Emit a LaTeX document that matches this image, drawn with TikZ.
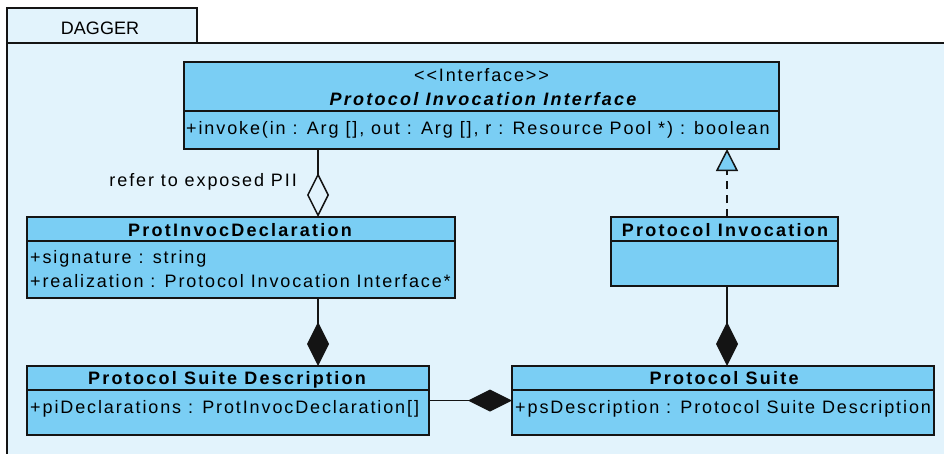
\documentclass[tikz,border=0pt]{standalone}
\usepackage{fontspec}
\setmainfont{Liberation Sans}
\newfontfamily\umlfont[LetterSpace=10.5]{Liberation Sans}
\newfontfamily\umlboldfont[LetterSpace=12.5]{Liberation Sans}
\usetikzlibrary{arrows.meta,calc}

\definecolor{umlblue}{RGB}{122,206,244}
\definecolor{pkgbg}{RGB}{226,243,252}
\definecolor{inkline}{RGB}{20,20,20}

\tikzset{
  classbox/.style={draw=inkline, fill=umlblue, rectangle, inner sep=0pt,
    outer sep=0pt, anchor=north west, line width=1.6pt},
  divider/.style={draw=inkline, line width=1.4pt},
  member/.style={anchor=base west, inner sep=0pt, font=\umlfont\fontsize{18}{20}\selectfont},
  ctitle/.style={anchor=base, inner sep=0pt, font=\umlboldfont\bfseries\fontsize{18}{20}\selectfont},
  stereo/.style={anchor=base, inner sep=0pt, font=\umlfont\fontsize{18}{20}\selectfont},
  assoc/.style={draw=inkline, line width=1.5pt},
  aggregation/.style={assoc, -{Diamond[open, length=44pt, width=22pt]}},
  composition/.style={assoc, -{Diamond[length=44pt, width=22pt]}},
  realization/.style={assoc, dash pattern=on 8pt off 6pt,
    -{Triangle[length=22pt, width=22pt, fill=umlblue]}},
}

\begin{document}
\begin{tikzpicture}[x=1pt, y=-1pt]
  \useasboundingbox (0,0) rectangle (944,453);
  \clip (0,0) rectangle (944,453);
  \fill[white] (0,0) rectangle (944,453);

  % package frame with its name tab
  \draw[fill=pkgbg, draw=inkline, line width=1.5pt] (7,43) rectangle (960,470);
  \draw[fill=pkgbg, draw=inkline, line width=1.5pt] (7,8) rectangle (197,43);
  \node[anchor=base, inner sep=0pt, font=\fontsize{18}{20}\selectfont] (pkgname) at (100,34.5) {DAGGER};

  % Protocol Invocation Interface
  \node[classbox, minimum width=595pt, minimum height=87pt] (PII) at (184,62) {};
  \draw[divider] ($(PII.north west)+(0,49)$) -- ($(PII.north east)+(0,49)$);
  \node[stereo] (PIIst) at (481.5,81.5) {<{}<Interface>{}>};
  \node[ctitle] (PIIname) at (483,105) {\itshape Protocol Invocation Interface};
  \node[member] (PIIop) at (186,134) {+invoke(in : Arg [], out : Arg [], r : Resource Pool *) : boolean};

  % ProtInvocDeclaration
  \node[classbox, minimum width=428pt, minimum height=81pt] (PID) at (27,217) {};
  \draw[divider] ($(PID.north west)+(0,24)$) -- ($(PID.north east)+(0,24)$);
  \node[ctitle] (PIDname) at (240,236) {ProtInvocDeclaration};
  \node[member] (PIDa1) at (30,263.5) {+signature : string};
  \node[member] (PIDa2) at (30,287) {+realization : Protocol Invocation Interface*};

  % Protocol Invocation
  \node[classbox, minimum width=227pt, minimum height=69pt] (PI) at (611,217) {};
  \draw[divider] ($(PI.north west)+(0,24)$) -- ($(PI.north east)+(0,24)$);
  \node[ctitle] (PIname) at (725,236) {Protocol Invocation};

  % Protocol Suite Description
  \node[classbox, minimum width=402pt, minimum height=69pt] (PSD) at (27,366) {};
  \draw[divider] ($(PSD.north west)+(0,24)$) -- ($(PSD.north east)+(0,24)$);
  \node[ctitle] (PSDname) at (227,384.3) {Protocol Suite Description};
  \node[member] (PSDa1) at (30,413.3) {+piDeclarations : ProtInvocDeclaration[]};

  % Protocol Suite
  \node[classbox, minimum width=422pt, minimum height=69pt] (PS) at (512,366) {};
  \draw[divider] ($(PS.north west)+(0,24)$) -- ($(PS.north east)+(0,24)$);
  \node[ctitle] (PSname) at (724,384.3) {Protocol Suite};
  \node[member] (PSa1) at (515,413.3) {+psDescription : Protocol Suite Description};

  % connector columns
  \coordinate (leftcol) at (318,0);
  \coordinate (rightcol) at (727,0);

  % relationships
  \draw[aggregation] (PII.south -| leftcol) -- (PID.north -| leftcol);
  \node[anchor=base east, inner sep=0pt, font=\umlfont\fontsize{18}{20}\selectfont] (reflabel)
    at (297,186.5) {refer to exposed PII};
  \draw[composition] (PID.south -| leftcol) -- (PSD.north -| leftcol);
  \draw[realization] (PI.north -| rightcol) -- (PII.south -| rightcol);
  \draw[composition] (PI.south -| rightcol) -- (PS.north -| rightcol);
  \draw[composition] (PSD.east) -- (PS.west);
\end{tikzpicture}
\end{document}
